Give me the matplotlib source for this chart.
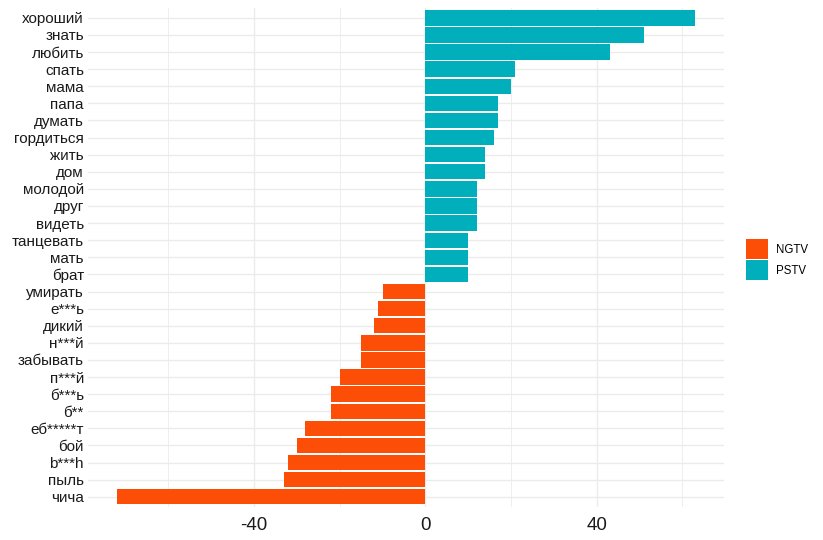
import matplotlib.pyplot as plt
import numpy as np
from matplotlib.patches import Patch

plt.rcParams['font.family'] = ['Liberation Sans', 'DejaVu Sans']

# words from bottom to top
words = ['чича', 'пыль', 'b***h', 'бой', 'еб*****т', 'б**', 'б***ь', 'п***й',
         'забывать', 'н***й', 'дикий', 'е***ь', 'умирать',
         'брат', 'мать', 'танцевать', 'видеть', 'друг', 'молодой', 'дом',
         'жить', 'гордиться', 'думать', 'папа', 'мама', 'спать', 'любить',
         'знать', 'хороший']
scores = [-72, -33, -32, -30, -28, -22, -22, -20,
          -15, -15, -12, -11, -10,
          10, 10, 10, 12, 12, 12, 14,
          14, 16, 17, 17, 20, 21, 43,
          51, 63]
sentiment = ['NGTV' if s < 0 else 'PSTV' for s in scores]
colors = {'NGTV': '#FC4E07', 'PSTV': '#00AFBB'}

fig = plt.figure(figsize=(8.23, 5.4), dpi=100)
ax = fig.add_axes([0.107, 0.061, 0.773, 0.925])

y = np.arange(len(words))
ax.barh(y, scores, height=0.9, color=[colors[s] for s in sentiment], zorder=2)

rng = max(scores) - min(scores)
ax.set_xlim(min(scores) - 0.05 * rng, max(scores) + 0.05 * rng)
ax.set_ylim(-0.6, len(words) - 0.4)

ax.set_yticks(y)
ax.set_yticklabels(words, fontsize=11, color='#1a1a1a')
ax.set_xticks([-40, 0, 40])
ax.set_xticklabels(['-40', '0', '40'], fontsize=13.5, color='#1a1a1a')
ax.set_xticks([-60, -20, 20, 60], minor=True)

ax.grid(True, which='major', color='#ebebeb', linewidth=1.0, zorder=0)
ax.grid(True, which='minor', axis='x', color='#ebebeb', linewidth=0.6, zorder=0)
ax.tick_params(axis='y', length=0, pad=3)
ax.tick_params(axis='x', length=0, pad=7)
ax.tick_params(which='minor', length=0)
for sp in ax.spines.values():
    sp.set_visible(False)

handles = [Patch(facecolor=colors['NGTV'], label='NGTV'),
           Patch(facecolor=colors['PSTV'], label='PSTV')]
fig.legend(handles=handles, loc='center left', bbox_to_anchor=(0.9, 0.519),
           frameon=False, fontsize=8.3, handlelength=1.9, handleheight=2.3,
           handletextpad=0.7, labelspacing=0.1, borderpad=0)

plt.savefig('out.png', dpi=100)
